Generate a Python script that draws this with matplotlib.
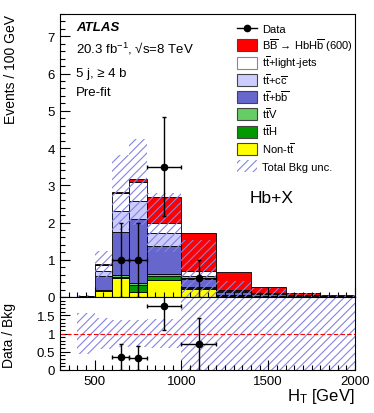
import numpy as np
from matplotlib import pyplot as plt
from matplotlib.axes import Axes
from matplotlib.figure import Figure
from matplotlib.lines import Line2D
from matplotlib.patches import Rectangle
from matplotlib.ticker import MultipleLocator, FormatStrFormatter

plt.rcParams['font.family'] = ['Liberation Sans', 'DejaVu Sans']
plt.rcParams['mathtext.fontset'] = 'custom'
plt.rcParams['mathtext.rm'] = 'Liberation Sans'
plt.rcParams['mathtext.it'] = 'Liberation Sans:italic'
plt.rcParams['mathtext.bf'] = 'Liberation Sans:bold'
plt.rcParams['hatch.linewidth'] = 0.8

# H_T binning [GeV]
bin_edges = [400, 500, 600, 700, 800, 1000, 1200, 1400, 1600, 1800, 2000]

# expected events / 100 GeV, stacked from the bottom up
non_tt = [0.0, 0.15, 0.50, 0.14, 0.46, 0.22, 0.030, 0.015, 0.005, 0.003]
tt_h = [0.0, 0.02, 0.05, 0.18, 0.11, 0.03, 0.010, 0.005, 0.002, 0.001]
tt_v = [0.0, 0.01, 0.04, 0.05, 0.05, 0.02, 0.010, 0.005, 0.002, 0.001]
tt_bb = [0.0, 0.39, 1.16, 1.72, 0.74, 0.21, 0.090, 0.050, 0.020, 0.010]
tt_cc = [0.0, 0.14, 0.56, 0.49, 0.35, 0.09, 0.030, 0.020, 0.010, 0.005]
tt_light = [0.03, 0.16, 0.49, 0.51, 0.29, 0.13, 0.030, 0.020, 0.010, 0.005]
signal = [0.0, 0.01, 0.02, 0.09, 0.69, 1.01, 0.480, 0.145, 0.056, 0.025]

# relative total background uncertainty per bin
bkg_rel_unc = [0.56, 0.42, 0.36, 0.37, 0.40, 1.2, 1.2, 1.2, 1.2, 1.2]

# observed events per bin (raw counts)
data_counts = [0, 0, 1, 1, 7, 1, 0, 0, 0, 0]

hatch_col = '#8484e4'


def rgb_to_matlab(r, g, b):
    return r/255., g/255., b/255.


def style_axis(ax_: Axes):
    ax_.tick_params(which='both', direction='in', top=False, right=False,
                    labelsize=9.5, width=0.8)
    ax_.tick_params(which='major', length=7)
    ax_.tick_params(which='minor', length=3.5)
    ax_.xaxis.set_major_locator(MultipleLocator(500))
    ax_.xaxis.set_minor_locator(MultipleLocator(50))
    for sp in ax_.spines.values():
        sp.set_linewidth(0.8)


def px_to_axes(px, py):
    # pixel position in the figure -> fraction of the main axes
    return (px - 60) / 295., (298 - py) / 283.


edges = np.array(bin_edges, dtype=float)
left = edges[:-1]
width = np.diff(edges)
centres = left + width / 2.

yellow = rgb_to_matlab(255, 255, 0)
dark_green = rgb_to_matlab(0, 153, 0)
light_green = rgb_to_matlab(102, 204, 102)
blue = rgb_to_matlab(102, 102, 204)
light_blue = rgb_to_matlab(204, 204, 255)

stack = [
    (non_tt, yellow),
    (tt_h, dark_green),
    (tt_v, light_green),
    (tt_bb, blue),
    (tt_cc, light_blue),
    (tt_light, 'white'),
    (signal, 'red'),
]

total_bkg = np.sum([non_tt, tt_h, tt_v, tt_bb, tt_cc, tt_light], axis=0)
unc = np.array(bkg_rel_unc)
band_lo = np.clip(total_bkg * (1 - unc), 0, None)
band_hi = total_bkg * (1 + unc)

counts = np.array(data_counts, dtype=float)
has_data = counts > 0
scale = width / 100.
data_y = counts / scale
data_err = np.sqrt(counts) / scale

fig: Figure = plt.figure(figsize=(3.74, 4.14), dpi=100)
ax: Axes = fig.add_axes((60/374, 1-298/414, 295/374, 283/414))
ax_r: Axes = fig.add_axes((60/374, 1-371/414, 295/374, 73/414), sharex=ax)

# stacked histogram
bottom = np.zeros(len(left))
for values, colour in stack:
    ax.bar(left, values, width=width, bottom=bottom, align='edge',
           color=colour, edgecolor='black', linewidth=0.6)
    bottom += np.array(values)

# background uncertainty band
ax.bar(left, band_hi - band_lo, width=width, bottom=band_lo, align='edge',
       facecolor='none', edgecolor=hatch_col, linewidth=0, hatch='////')

ax.errorbar(centres[has_data], data_y[has_data], xerr=width[has_data]/2,
            yerr=data_err[has_data], fmt='o', color='black', markersize=4.5,
            elinewidth=1, capsize=1.5, capthick=1)

ax.set_xlim(300, 2000)
ax.set_ylim(0, 7.6)
style_axis(ax)
ax.yaxis.set_major_locator(MultipleLocator(1))
ax.yaxis.set_minor_locator(MultipleLocator(0.2))
ax.tick_params(labelbottom=False)

ax.text(0.054, 0.954, 'ATLAS', transform=ax.transAxes, fontsize=9.5,
        fontweight='bold', style='italic', va='center')
ax.text(0.054, 0.880, '20.3 fb$^{-1}$, \u221As=8 TeV', transform=ax.transAxes,
        fontsize=9.5, va='center')
ax.text(0.054, 0.792, '5 j, \u2265 4 b', transform=ax.transAxes, fontsize=9.5,
        va='center')
ax.text(0.054, 0.724, 'Pre-fit', transform=ax.transAxes, fontsize=9.5,
        va='center')
ax.text(0.719, 0.353, 'Hb+X', transform=ax.transAxes, fontsize=12.5,
        ha='center', va='center')

# legend, drawn by hand so the rows keep an even pitch
tt = r't$\overline{\mathrm{t}}$'
entries = [
    ('data', None, 'Data'),
    ('box', 'red', 'B$\\overline{\\mathrm{B}}$ \u2192 HbH$\\overline{\\mathrm{b}}$ (600)'),
    ('box', 'white', tt + '+light-jets'),
    ('box', light_blue, tt + r'+c$\overline{\mathrm{c}}$'),
    ('box', blue, tt + r'+b$\overline{\mathrm{b}}$'),
    ('box', light_green, tt + 'V'),
    ('box', dark_green, tt + 'H'),
    ('box', yellow, 'Non-' + tt),
    ('hatch', None, 'Total Bkg unc.'),
]
for i, (kind, colour, label) in enumerate(entries):
    row_y = 29 + 17.25 * i
    x0, y0 = px_to_axes(237, row_y + 6)
    x1, y1 = px_to_axes(257, row_y - 6)
    if kind == 'data':
        xm, ym = px_to_axes(247, row_y)
        ax.add_line(Line2D([x0, x1], [ym, ym], color='black', lw=1,
                           transform=ax.transAxes))
        ax.add_line(Line2D([xm], [ym], color='black', marker='o',
                           markersize=4.5, transform=ax.transAxes))
    elif kind == 'box':
        ax.add_patch(Rectangle((x0, y0), x1 - x0, y1 - y0, facecolor=colour,
                               edgecolor='#444444' if colour != 'white' else '#888888',
                               lw=0.8, transform=ax.transAxes, clip_on=False))
    else:
        ax.add_patch(Rectangle((x0, y0), x1 - x0, y1 - y0, facecolor='none',
                               edgecolor=hatch_col, lw=0, hatch='////',
                               transform=ax.transAxes, clip_on=False))
    xt, yt = px_to_axes(262, row_y + 4)
    ax.text(xt, yt, label, transform=ax.transAxes, fontsize=8, va='baseline')

# ratio panel
ok = total_bkg > 0
r_lo = np.where(ok, 1 - unc, 0)
r_hi = np.where(ok, 1 + unc, 0)
ax_r.bar(left[ok], (r_hi - r_lo)[ok], width=width[ok], bottom=r_lo[ok],
         align='edge', facecolor='none', edgecolor=hatch_col, linewidth=0,
         hatch='////')
ax_r.axhline(1, color='red', lw=0.8, ls=(0, (4, 2)))
ratio = data_y[has_data] / total_bkg[has_data]
ratio_err = data_err[has_data] / total_bkg[has_data]
ax_r.errorbar(centres[has_data], ratio, xerr=width[has_data]/2, yerr=ratio_err,
              fmt='o', color='black', markersize=4.5, elinewidth=1,
              capsize=1.5, capthick=1)
ax_r.set_ylim(0, 2.0)
style_axis(ax_r)
ax_r.set_yticks([0, 0.5, 1, 1.5])
ax_r.yaxis.set_minor_locator(MultipleLocator(0.1))
ax_r.yaxis.set_major_formatter(FormatStrFormatter('%g'))
ax_r.xaxis.set_major_formatter(FormatStrFormatter('%d'))

fig.text(11/374, 1-15/414, 'Events / 100 GeV', rotation=90, ha='center',
         va='top', fontsize=10)
fig.text(9/374, 1-303/414, 'Data / Bkg', rotation=90, ha='center', va='top',
         fontsize=10)
fig.text(355/374, 1-397/414, r'H$_{\mathrm{T}}$ [GeV]', ha='right',
         va='center', fontsize=12)

fig.savefig('out.png', dpi=100)
